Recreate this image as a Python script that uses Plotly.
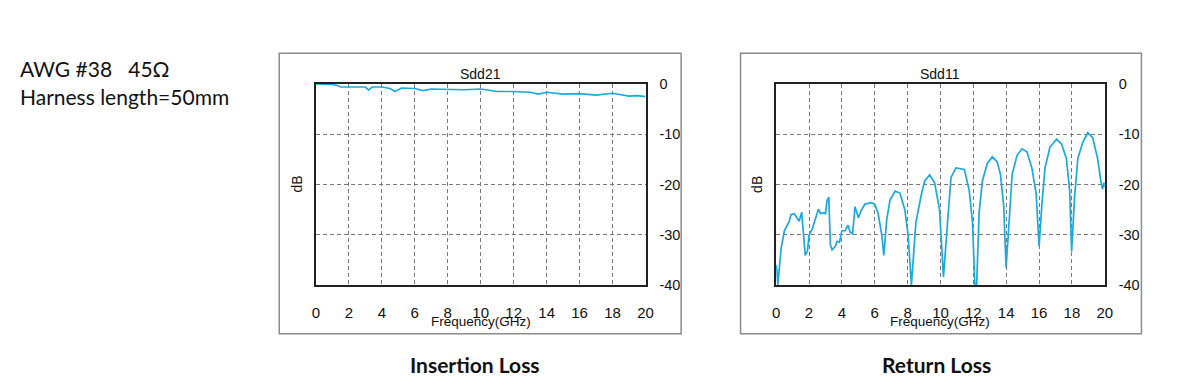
import plotly.graph_objects as go

# ---- data ----
sdd21_freq = [0, 0.5, 1.0, 1.3, 1.5, 2.0, 2.5, 3.0, 3.2, 3.4, 4.0, 4.5, 4.8, 5.2, 6.0, 6.5, 7.0,
              8.0, 9.0, 10.0, 11.0, 12.0, 13.0, 13.5, 14.0, 15.0, 15.5, 16.0, 17.0, 18.0, 19.0, 19.5, 20.0]
sdd21_db = [0.0, 0.0, -0.1, -0.3, -0.6, -0.6, -0.6, -0.6, -1.2, -0.6, -0.6, -0.9, -1.5, -0.8, -0.9, -1.3, -1.0,
            -1.1, -1.15, -1.0, -1.5, -1.5, -1.65, -2.0, -1.65, -2.0, -1.95, -1.9, -2.2, -1.85, -2.4, -2.3, -2.5]

sdd11_freq = [0.0, 0.04, 0.1, 0.3, 0.5, 0.8, 0.9, 1.1, 1.3, 1.4, 1.55, 1.65, 1.77, 1.9, 2.0, 2.2, 2.4, 2.57,
              2.7, 2.9, 3.0, 3.1, 3.2, 3.3, 3.4, 3.6, 3.7, 3.85, 4.0, 4.2, 4.37, 4.5, 4.65, 4.8, 5.0,
              5.2, 5.4, 5.8, 6.0, 6.2, 6.43, 6.55, 6.73, 6.93, 7.23, 7.53, 7.83, 8.03, 8.23, 8.5, 8.84,
              9.04, 9.34, 9.64, 9.94, 10.18, 10.4, 10.64, 10.94, 11.45, 11.75, 11.95, 12.09, 12.2, 12.35,
              12.55, 12.85, 13.15, 13.45, 13.65, 13.85, 13.99, 14.16, 14.36, 14.66, 14.96, 15.26, 15.56,
              15.82, 16.0, 16.16, 16.36, 16.66, 17.06, 17.36, 17.66, 17.86, 17.98, 18.16, 18.36, 18.66,
              18.96, 19.26, 19.56, 19.76, 19.86, 19.96, 20.0]
sdd11_db = [-36.0, -36.9, -40.0, -32.7, -29.2, -27.3, -26.0, -25.8, -26.8, -27.3, -25.5, -30.1, -34.1, -33.3,
            -30.1, -28.8, -26.6, -24.9, -25.8, -25.6, -25.8, -23.1, -22.5, -32.0, -33.0, -32.3, -31.3, -31.5,
            -29.2, -29.2, -28.1, -29.5, -29.8, -24.4, -26.6, -25.0, -23.9, -23.6, -23.9, -25.7, -30.1, -34.1,
            -26.9, -23.1, -21.3, -21.7, -25.0, -30.1, -40.0, -27.6, -21.9, -19.3, -18.1, -19.6, -25.0, -38.4,
            -28.8, -18.6, -16.7, -17.0, -21.2, -27.6, -40.0, -40.0, -25.7, -19.3, -15.8, -14.5, -15.5, -18.0,
            -24.4, -36.5, -28.2, -18.0, -14.2, -12.9, -13.5, -16.7, -21.8, -32.3, -24.4, -16.7, -12.6, -11.0,
            -11.9, -14.8, -21.2, -33.3, -22.5, -14.8, -11.6, -9.7, -10.7, -14.8, -19.3, -20.9, -19.6, -20.5]

x_ticks = [0, 2, 4, 6, 8, 10, 12, 14, 16, 18, 20]
y_ticks = [0, -10, -20, -30, -40]
y_ticktext = ["0", "-10", "-20", "-30", "-40"]

# ---- figure ----
# page body has an 8px margin; figure is sized so the page fits the 1200x392 window exactly
OFF = 8
W, H = 1200 - 2 * OFF, 392 - 2 * OFF
LINE = "#1aa9e3"
SANS = "Liberation Sans, Arial, sans-serif"
TEXTFONT = "Lato, Open Sans, sans-serif"


def px(x):
    return (x - OFF) / W


def py(y):
    return 1 - (y - OFF) / H


fig = go.Figure()
fig.add_trace(go.Scatter(x=sdd21_freq, y=sdd21_db, mode="lines", line=dict(color=LINE, width=1.7),
                         xaxis="x", yaxis="y", showlegend=False))
fig.add_trace(go.Scatter(x=sdd11_freq, y=sdd11_db, mode="lines", line=dict(color=LINE, width=1.7),
                         xaxis="x2", yaxis="y2", showlegend=False))

panels = [
    dict(left=315, right=648, box=(278, 684), title="Sdd21", bottom="Insertion Loss"),
    dict(left=780, right=1112, box=(744, 1149), title="Sdd11", bottom="Return Loss"),
]
top, bot = 79, 289

axcommon = dict(showline=True, linecolor="#222", linewidth=2, mirror=True,
                showgrid=True, gridcolor="#7a7a7a", griddash="4px,3px", gridwidth=1,
                zeroline=False, ticks="", fixedrange=True)

layout = dict(width=W, height=H, autosize=False, margin=dict(l=0, r=0, t=0, b=0, pad=0),
              paper_bgcolor="white", plot_bgcolor="white", showlegend=False,
              annotations=[], shapes=[])

for i, p in enumerate(panels):
    xa = "xaxis" if i == 0 else "xaxis2"
    ya = "yaxis" if i == 0 else "yaxis2"
    ax_id = "x" if i == 0 else "x2"
    ay_id = "y" if i == 0 else "y2"
    layout[xa] = dict(axcommon, domain=[px(p["left"]), px(p["right"])], range=[0, 20],
                      tickvals=x_ticks, anchor=ay_id, ticklabelstandoff=13,
                      tickfont=dict(family=SANS, size=15, color="#111"))
    layout[ya] = dict(axcommon, domain=[py(bot), py(top)], range=[-40, 0],
                      tickvals=y_ticks, ticktext=y_ticktext, anchor=ax_id, side="right",
                      ticklabelstandoff=9, tickfont=dict(family=SANS, size=14.5, color="#111"))
    cx = (p["left"] + p["right"]) / 2
    layout["annotations"] += [
        dict(text=p["title"], x=px(cx), y=py(69), xref="paper", yref="paper",
             showarrow=False, font=dict(family=SANS, size=14, color="#111"),
             xanchor="center", yanchor="middle"),
        dict(text="Frequency(GHz)", x=px(cx), y=py(327), xref="paper", yref="paper",
             showarrow=False, font=dict(family=SANS, size=13.5, color="#111"),
             xanchor="center", yanchor="middle"),
        dict(text="dB", x=px(p["left"] - 20), y=py(184), xref="paper", yref="paper", textangle=-90,
             showarrow=False, font=dict(family=SANS, size=14, color="#111"),
             xanchor="center", yanchor="middle"),
        dict(text="<b>" + p["bottom"] + "</b>", x=px((p["box"][0] + p["box"][1]) / 2 - 5), y=py(372),
             xref="paper", yref="paper", showarrow=False,
             font=dict(family=TEXTFONT, size=21, color="#111"),
             xanchor="center", yanchor="middle"),
    ]
    layout["shapes"].append(dict(type="rect", xref="paper", yref="paper",
                                 x0=px(p["box"][0]), x1=px(p["box"][1]), y0=py(340), y1=py(47),
                                 line=dict(color="#8c8c8c", width=1.5)))

layout["annotations"] += [
    dict(text="AWG #38&nbsp;&nbsp;&nbsp;45Ω", x=px(14), y=py(63), xref="paper", yref="paper",
         showarrow=False, xanchor="left", yanchor="middle",
         font=dict(family=TEXTFONT, size=21, color="#111")),
    dict(text="Harness length=50mm", x=px(14), y=py(92), xref="paper", yref="paper",
         showarrow=False, xanchor="left", yanchor="middle",
         font=dict(family=TEXTFONT, size=21, color="#111")),
]

fig.update_layout(**layout)
fig.write_html("out.html")
